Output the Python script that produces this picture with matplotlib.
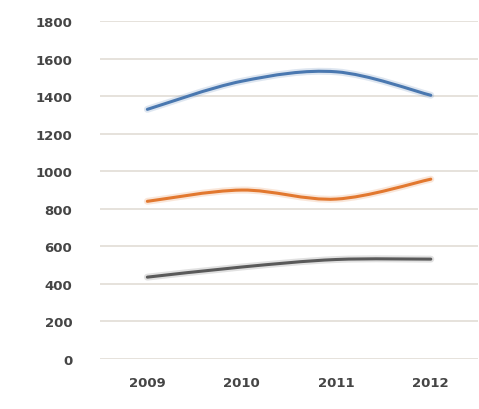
import matplotlib
matplotlib.use("Agg")
import matplotlib.pyplot as plt
from matplotlib.path import Path
from matplotlib.patches import PathPatch
import numpy as np

years = ["2009", "2010", "2011", "2012"]
series_blue = [1330, 1480, 1530, 1405]
series_orange = [840, 900, 852, 958]
series_gray = [436, 490, 530, 532]
y_ticks = [0, 200, 400, 600, 800, 1000, 1200, 1400, 1600, 1800]

fig = plt.figure(figsize=(4.79, 4.10), dpi=100)
ax = fig.add_axes([0.209, 0.122, 0.789, 0.824])

def smooth_path(xs, ys):
    xs = np.asarray(xs, float)
    ys = np.asarray(ys, float)
    n = len(xs)
    verts = [(xs[0], ys[0])]
    codes = [Path.MOVETO]
    for i in range(n - 1):
        p0 = (xs[max(i - 1, 0)], ys[max(i - 1, 0)])
        p1 = (xs[i], ys[i])
        p2 = (xs[i + 1], ys[i + 1])
        p3 = (xs[min(i + 2, n - 1)], ys[min(i + 2, n - 1)])
        c1 = (p1[0] + (p2[0] - p0[0]) / 6, p1[1] + (p2[1] - p0[1]) / 6)
        c2 = (p2[0] - (p3[0] - p1[0]) / 6, p2[1] - (p3[1] - p1[1]) / 6)
        verts += [c1, c2, p2]
        codes += [Path.CURVE4] * 3
    return Path(verts, codes)

x = np.arange(len(years))
for vals, col in [(series_blue, "#4a78b0"), (series_orange, "#e2782f"), (series_gray, "#5a5a5a")]:
    p = smooth_path(x, vals)
    ax.add_patch(PathPatch(p, facecolor="none", edgecolor=col, lw=5, alpha=0.18, capstyle="round"))
    ax.add_patch(PathPatch(p, facecolor="none", edgecolor=col, lw=2.2, capstyle="round"))

ax.set_xlim(-0.5, len(years) - 0.5)
ax.set_ylim(0, 1800)
ax.set_yticks(y_ticks)
ax.set_yticklabels([str(v) for v in y_ticks])
ax.set_xticks(x)
ax.set_xticklabels(years)
ax.grid(axis="y", color="#e2ddd5", lw=1.2)
ax.set_axisbelow(True)
for s in ax.spines.values():
    s.set_visible(False)
ax.tick_params(length=0, labelsize=9.5, colors="#454545")
ax.yaxis.set_tick_params(pad=20)
ax.xaxis.set_tick_params(pad=12)
for t in ax.get_xticklabels() + ax.get_yticklabels():
    t.set_fontweight("bold")

fig.savefig("out.png", dpi=100)
